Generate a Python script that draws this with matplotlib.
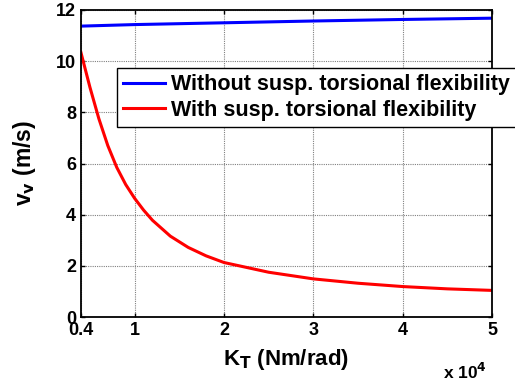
import matplotlib.pyplot as plt

plt.rcParams["font.family"] = ["Liberation Sans", "DejaVu Sans"]
plt.rcParams["font.weight"] = "bold"
plt.rcParams["mathtext.default"] = "bf"

# stiffness K_T in units of 1e4 Nm/rad
kt_rigid = [0.4, 1.0, 2.0, 3.0, 4.0, 5.0]
vv_rigid = [11.37, 11.43, 11.50, 11.57, 11.63, 11.68]

kt_flex = [0.4, 0.5, 0.6, 0.7, 0.8, 0.9, 1.0, 1.1, 1.2, 1.4, 1.6, 1.8, 2.0,
           2.5, 3.0, 3.5, 4.0, 4.5, 5.0]
vv_flex = [10.33, 8.98, 7.75, 6.70, 5.85, 5.18, 4.64, 4.18, 3.78, 3.16, 2.72, 2.39, 2.13,
           1.75, 1.49, 1.32, 1.19, 1.1, 1.04]

xticks = [0.4, 1, 2, 3, 4, 5]
xticklabels = ["0.4", "1", "2", "3", "4", "5"]
yticks = [0, 2, 4, 6, 8, 10, 12]

fig = plt.figure(figsize=(5.15, 3.81), dpi=100)
ax = fig.add_axes([81 / 515, 1 - 317 / 381, 411 / 515, 307 / 381])

ax.plot(kt_rigid, vv_rigid, color="#0000ff", lw=2.2,
        label="Without susp. torsional flexibility")
ax.plot(kt_flex, vv_flex, color="#ff0000", lw=2.2,
        label="With susp. torsional flexibility")

ax.set_xlim(0.4, 5)
ax.set_ylim(0, 12)
ax.set_xticks(xticks)
ax.set_xticklabels(xticklabels)
ax.set_yticks(yticks)
ax.tick_params(direction="in", top=True, right=True, labelsize=13, length=3, width=1)
for lbl in ax.get_xticklabels() + ax.get_yticklabels():
    lbl.set_fontweight("bold")
for s in ax.spines.values():
    s.set_linewidth(1.3)
ax.grid(True, color="#808080", linestyle=(0, (1, 1)), linewidth=0.8)

ax.set_xlabel(r"K$_\mathbf{T}$ (Nm/rad)", fontsize=16, fontweight="bold", labelpad=6)
ax.set_ylabel(r"v$_\mathbf{v}$ (m/s)", fontsize=16.5, fontweight="bold", labelpad=13)

fig.text(443 / 515, 1 - 372 / 381, r"x 10$^{4}$", fontsize=12.5, fontweight="bold",
         va="center", ha="left")

leg = fig.legend(loc="upper left", bbox_to_anchor=(117 / 515, 1 - 68 / 381),
                 fontsize=15.5, frameon=True, fancybox=False, borderaxespad=0,
                 handlelength=1.95, handletextpad=0.25, borderpad=0.3, labelspacing=0.2)
leg.get_frame().set_edgecolor("black")
leg.get_frame().set_linewidth(1.0)
leg.get_frame().set_alpha(1)
for t in leg.get_texts():
    t.set_fontweight("bold")

fig.savefig("out.png", dpi=100)
